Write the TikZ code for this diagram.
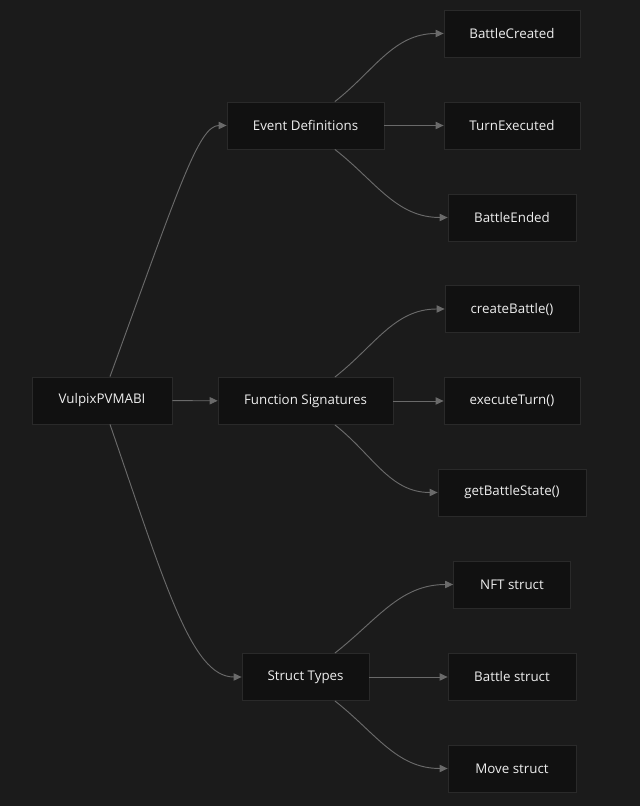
\documentclass[tikz,border=0pt]{standalone}
\usepackage{fontspec}
\setmainfont{Open Sans}
\usetikzlibrary{arrows.meta}
\definecolor{bgcol}{HTML}{1B1B1B}
\definecolor{boxcol}{HTML}{111111}
\definecolor{edgecol}{HTML}{2A2A2A}
\definecolor{linecol}{HTML}{6A6A6A}
\definecolor{txtcol}{HTML}{EEEEEE}
\begin{document}
\begin{tikzpicture}
    	[x=0.75pt, y=0.75pt,
    	 box/.style={rectangle, fill=boxcol, draw=edgecol, line width=0.6pt, text=txtcol,
    	   minimum height=35.25pt, inner sep=0pt, font=\fontsize{10}{12}\selectfont},
    	 arr/.style={draw=linecol, line width=0.7pt, -{Triangle[length=6pt,width=5.5pt]}}]
    	\fill[bgcol] (0,0) rectangle (640,806);
    	\node (vul) at (102,405.5) [box, minimum width=105pt] {VulpixPVMABI};
    	\node (ev) at (305.5,680.5) [box, minimum width=117.75pt] {Event Definitions};
    	\node (fs) at (305.5,405) [box, minimum width=131.25pt] {Function Signatures};
        \node (st) at (305.5,129) [box, minimum width=95.25pt] {Struct Types};
    	\node (bc) at (512,772.5) [box, minimum width=102pt] {BattleCreated};
    	\node (te) at (512,680.5) [box, minimum width=102pt] {TurnExecuted};
    	\node (be) at (512,588.5) [box, minimum width=96pt] {BattleEnded};
    	\node (cb) at (512,497) [box, minimum width=100.5pt] {createBattle()};
    	\node (et) at (512,405) [box, minimum width=102pt] {executeTurn()};
    	\node (gs) at (512,313.5) [box, minimum width=111pt] {getBattleState()};
    	\node (nft) at (512,221.5) [box, minimum width=87.75pt] {NFT struct};
    	\node (bs) at (512,129) [box, minimum width=96pt] {Battle struct};
    	\node (ms) at (512,37.5) [box, minimum width=96pt] {Move struct};
	
    	\draw[arr] ([xshift=6pt]vul.north) .. controls +(70:200) and +(-28,0) .. (ev.west);
    	\draw[arr] (vul) -- (fs);
    	\draw[arr] ([xshift=6pt]vul.south) .. controls +(-71:170) and +(-50,0) .. (st.west);
	
    	\draw[arr] ([xshift=22pt]ev.north) to[out=38, in=180] (bc.west);
    	\draw[arr] (ev) -- (te);
    	\draw[arr] ([xshift=22pt]ev.south) to[out=-38, in=180] (be.west);
	
    	\draw[arr] ([xshift=22pt]fs.north) to[out=38, in=180] (cb.west);
    	\draw[arr] (fs) -- (et);
    	\draw[arr] ([xshift=22pt]fs.south) to[out=-38, in=180] (gs.west);
	
    	\draw[arr] ([xshift=22pt]st.north) to[out=38, in=180] (nft.west);
    	\draw[arr] (st) -- (bs);
    	\draw[arr] ([xshift=22pt]st.south) to[out=-38, in=180] (ms.west);
\end{tikzpicture}
\end{document}
